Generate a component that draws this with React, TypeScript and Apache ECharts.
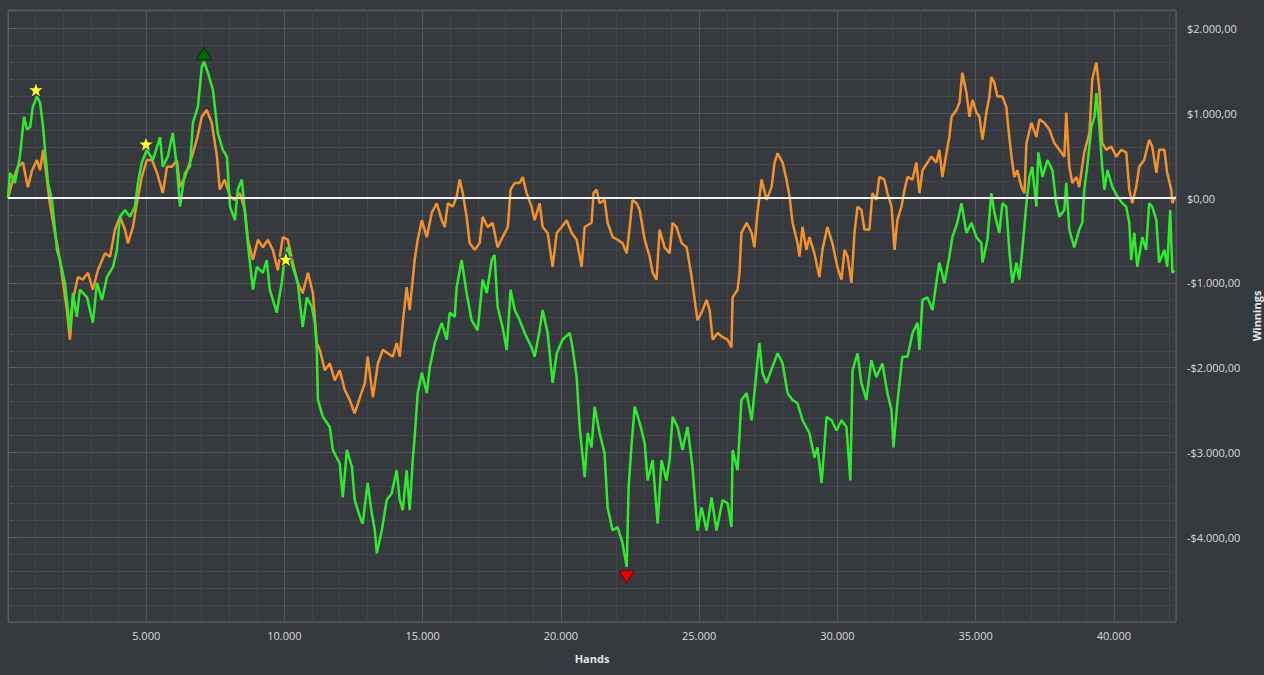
import React, { useEffect, useRef } from "react";
import * as echarts from "echarts";

// [hands, winnings]
const greenSeries: [number, number][] = [
  [0, 0], [70, 300], [250, 180], [430, 490], [580, 960], [690, 810], [800, 840], [900, 1080],
  [1050, 1200], [1160, 1125], [1270, 840], [1340, 570], [1450, 180], [1590, -20], [1700, -370],
  [1770, -610], [1880, -730], [2060, -1000], [2170, -1320], [2240, -1560], [2350, -1120],
  [2490, -1400], [2600, -1080], [2860, -1170], [3070, -1470], [3220, -1000], [3400, -1200],
  [3580, -930], [3800, -810], [3940, -610], [4050, -220], [4230, -140], [4410, -220], [4590, -100],
  [4700, 180], [4840, 420], [5020, 570], [5240, 450], [5500, 720], [5600, 370], [5780, 490],
  [5960, 770], [6110, 370], [6220, -100], [6400, 300], [6580, 370], [6690, 890], [6870, 1080],
  [7010, 1550], [7090, 1610], [7230, 1480], [7410, 1280], [7590, 770], [7770, 570], [7920, 490],
  [8030, -100], [8210, -260], [8310, 100], [8460, 220], [8570, -170], [8680, -550], [8860, -1080],
  [9000, -810], [9220, -880], [9360, -730], [9470, -1080], [9720, -1350], [9900, -1000],
  [10010, -690], [10120, -580], [10300, -810], [10480, -1000], [10660, -1520], [10810, -1170],
  [10990, -1280], [11100, -1470], [11170, -1790], [11210, -2380], [11390, -2580], [11640, -2700],
  [11750, -2970], [12000, -3130], [12110, -3530], [12260, -2970], [12440, -3170], [12540, -3560],
  [12730, -3760], [12830, -3840], [13010, -3360], [13160, -3720], [13270, -3920], [13340, -4190],
  [13520, -3920], [13700, -3560], [13880, -3480], [14060, -3210], [14170, -3560], [14280, -3680],
  [14420, -3210], [14530, -3680], [14640, -3090], [14710, -2820], [14820, -2300], [14970, -2060],
  [15150, -2300], [15260, -1990], [15440, -1710], [15690, -1470], [15870, -1670], [15980, -1350],
  [16160, -1400], [16230, -1050], [16410, -730], [16590, -1120], [16770, -1440], [16990, -1560],
  [17170, -960], [17320, -1120], [17500, -730], [17600, -670], [17710, -1280], [17890, -1520],
  [18040, -1790], [18180, -1080], [18330, -1320], [18510, -1440], [18690, -1590], [18940, -1760],
  [19050, -1870], [19230, -1560], [19340, -1320], [19520, -1590], [19700, -2180], [19850, -1830],
  [20060, -1670], [20320, -1590], [20420, -1760], [20570, -2110], [20680, -2700], [20860, -3290],
  [20970, -2770], [21110, -2940], [21220, -2460], [21400, -2770], [21580, -3010], [21690, -3650],
  [21870, -3920], [22050, -3880], [22230, -4070], [22380, -4350], [22450, -3410], [22560, -2890],
  [22670, -2460], [22850, -2650], [23030, -2890], [23140, -3330], [23320, -3090], [23500, -3840],
  [23640, -3090], [23820, -3330], [23930, -3090], [24040, -2580], [24220, -2700], [24400, -2970],
  [24580, -2700], [24760, -3170], [24940, -3920], [25090, -3650], [25270, -3920], [25450, -3530],
  [25630, -3920], [25850, -3560], [26030, -3600], [26170, -3880], [26210, -2970], [26390, -3210],
  [26530, -2380], [26720, -2300], [26900, -2620], [27000, -2300], [27180, -1710], [27290, -2060],
  [27440, -2180], [27650, -1990], [27840, -1830], [28020, -1950], [28200, -2300], [28380, -2380],
  [28560, -2420], [28740, -2620], [28990, -2770], [29170, -3060], [29280, -2940], [29430, -3360],
  [29610, -2580], [29790, -2620], [29970, -2740], [30150, -2620], [30330, -2700], [30470, -3330],
  [30550, -2030], [30730, -1830], [30870, -2180], [31050, -2380], [31230, -1910], [31410, -2110],
  [31630, -1950], [31810, -2300], [31960, -2500], [32030, -2940], [32170, -2420], [32350, -1870],
  [32540, -1870], [32720, -1590], [32900, -1470], [32970, -1790], [33080, -1200], [33260, -1170],
  [33440, -1320], [33580, -1000], [33690, -760], [33870, -1000], [34050, -690], [34160, -460],
  [34340, -290], [34490, -60], [34670, -410], [34850, -290], [35030, -460], [35210, -530],
  [35250, -760], [35430, -490], [35570, 60], [35680, -170], [35860, -410], [35970, -60],
  [36110, -100], [36220, -610], [36330, -1000], [36480, -760], [36580, -960], [36690, -610],
  [36840, -60], [36950, 250], [37050, 370], [37200, -100], [37270, 540], [37420, 250], [37600, 450],
  [37780, 330], [37920, -60], [38030, -220], [38210, -140], [38280, 180], [38390, -370],
  [38570, -580], [38750, -370], [38860, -290], [38930, 100], [39040, 370], [39190, 840],
  [39300, 960], [39370, 1240], [39480, 840], [39580, 370], [39660, 100], [39770, 330], [39950, 130],
  [40130, 20], [40310, -60], [40450, -100], [40560, -290], [40630, -730], [40740, -410],
  [40850, -810], [41030, -460], [41170, -610], [41280, -60], [41390, -100], [41540, -260],
  [41640, -760], [41830, -610], [41930, -810], [42040, -140], [42120, -880], [42190, -850],
];

const orangeSeries: [number, number][] = [
  [0, 0], [180, 220], [360, 370], [540, 420], [720, 130], [870, 330], [1050, 450], [1160, 330],
  [1270, 570], [1410, 220], [1520, -80], [1700, -410], [1880, -730], [1990, -1000], [2130, -1320],
  [2240, -1670], [2350, -1200], [2530, -930], [2710, -960], [2890, -880], [3070, -1080],
  [3250, -850], [3510, -650], [3690, -690], [3870, -370], [4050, -220], [4230, -370], [4340, -530],
  [4520, -340], [4660, -60], [4840, 250], [5020, 450], [5210, 450], [5390, 300], [5600, 60],
  [5750, 370], [5930, 370], [6110, 450], [6220, 130], [6400, 250], [6650, 490], [6830, 690],
  [7010, 960], [7190, 1040], [7370, 890], [7560, 490], [7660, 100], [7840, 220], [8030, 20],
  [8210, -20], [8390, 60], [8570, -140], [8680, -490], [8860, -730], [9040, -490], [9220, -580],
  [9400, -490], [9580, -610], [9760, -850], [9940, -460], [10120, -490], [10300, -760],
  [10480, -1000], [10660, -1120], [10850, -880], [11030, -1120], [11170, -1710], [11280, -1790],
  [11460, -2030], [11640, -1950], [11820, -2150], [12000, -2030], [12180, -2260], [12360, -2380],
  [12540, -2540], [12730, -2350], [12910, -2180], [13010, -1870], [13200, -2350], [13380, -1950],
  [13560, -1790], [13740, -1830], [13920, -1870], [14060, -1710], [14170, -1870], [14280, -1470],
  [14420, -1050], [14530, -1320], [14710, -730], [14820, -490], [14970, -260], [15150, -460],
  [15330, -170], [15510, -60], [15690, -260], [15800, -340], [15910, -60], [16090, -100],
  [16230, 20], [16340, 220], [16450, 60], [16590, -220], [16700, -530], [16880, -610],
  [17060, -530], [17170, -220], [17350, -340], [17530, -290], [17710, -580], [17890, -460],
  [18080, -340], [18180, 100], [18330, 180], [18510, 180], [18620, 250], [18760, 60], [18940, -100],
  [19050, -260], [19230, -60], [19340, -340], [19520, -410], [19700, -810], [19850, -410],
  [20030, -340], [20210, -260], [20390, -410], [20570, -490], [20750, -810], [20860, -340],
  [21110, -290], [21180, 60], [21290, 100], [21400, -60], [21580, -20], [21690, -290],
  [21870, -460], [22050, -490], [22230, -530], [22380, -650], [22490, -340], [22590, -20],
  [22740, -60], [22850, -140], [23030, -490], [23210, -690], [23320, -880], [23460, -960],
  [23570, -370], [23750, -580], [23930, -650], [24040, -290], [24180, -340], [24370, -530],
  [24550, -580], [24730, -930], [24840, -1200], [24940, -1440], [25090, -1350], [25270, -1200],
  [25380, -1320], [25490, -1670], [25670, -1590], [25850, -1640], [26030, -1670], [26170, -1760],
  [26210, -1170], [26390, -1080], [26460, -880], [26530, -410], [26720, -290], [26900, -410],
  [27000, -580], [27110, -170], [27260, 220], [27440, -20], [27620, 130], [27730, 420],
  [27840, 530], [28020, 420], [28160, 220], [28270, 20], [28380, -290], [28560, -530],
  [28630, -690], [28740, -340], [28880, -610], [28990, -460], [29170, -650], [29350, -930],
  [29460, -610], [29640, -340], [29820, -530], [30000, -810], [30150, -960], [30260, -610],
  [30370, -690], [30510, -1000], [30620, -410], [30730, -100], [30870, -140], [30980, -370],
  [31160, -370], [31270, 60], [31410, -20], [31520, 250], [31700, 220], [31810, 60], [31960, -100],
  [32070, -610], [32170, -260], [32320, -100], [32430, 100], [32540, 250], [32720, 220],
  [32860, 420], [32970, 60], [33080, 330], [33260, 420], [33400, 490], [33580, 420], [33690, 570],
  [33800, 250], [33950, 540], [34050, 720], [34130, 960], [34310, 1040], [34420, 1130],
  [34520, 1480], [34670, 1240], [34780, 960], [34890, 1160], [35030, 1010], [35140, 960],
  [35250, 690], [35390, 1010], [35500, 1200], [35570, 1430], [35680, 1360], [35790, 1200],
  [35970, 1200], [36110, 1080], [36190, 810], [36300, 490], [36400, 250], [36510, 330],
  [36660, 130], [36770, 60], [36840, 650], [37020, 890], [37200, 720], [37310, 930], [37490, 890],
  [37670, 810], [37850, 650], [38030, 570], [38210, 490], [38280, 1010], [38390, 370], [38500, 180],
  [38650, 250], [38750, 130], [38930, 540], [39120, 770], [39220, 1400], [39370, 1600],
  [39480, 1280], [39580, 650], [39730, 570], [39910, 610], [40090, 490], [40270, 570], [40450, 540],
  [40560, 100], [40670, -60], [40810, 130], [40920, 370], [41100, 450], [41280, 690], [41390, 610],
  [41540, 300], [41640, 570], [41830, 570], [41930, 300], [42080, 100], [42120, -60], [42220, 20],
];

// annotated points on the green line
const starMarks: [number, number][] = [[1010, 1280], [4990, 640], [10050, -720]];
const maxMark: [number, number] = [7090, 1610];
const minMark: [number, number] = [22380, -4350];

const xMin = 0;
const xMax = 42250;
const xInterval = 5000;
const yMin = -5000;
const yMax = 2220;
const yInterval = 1000;

const STAR =
  "path://M50,2 L61.8,36.2 L97.6,36.2 L68.6,57.6 L79.4,92 L50,71 L20.6,92 L31.4,57.6 L2.4,36.2 L38.2,36.2 Z";

function thousands(n: number): string {
  return String(n).replace(/\B(?=(\d{3})+(?!\d))/g, ".");
}
function money(v: number): string {
  const neg = v < 0;
  const parts = Math.abs(v).toFixed(2).split(".");
  return (neg ? "-" : "") + "$" + thousands(Number(parts[0])) + "," + parts[1];
}

export default function App() {
  const ref = useRef<HTMLDivElement>(null);
  useEffect(() => {
    if (!ref.current) return;
    const chart = echarts.init(ref.current, undefined, { renderer: "svg" });
    const font = "'Open Sans', 'Noto Sans', sans-serif";
    const major = "#54575b";
    const minor = "#43464a";
    chart.setOption({
      animation: false,
      backgroundColor: "#36393d",
      textStyle: { fontFamily: font },
      grid: {
        left: 8,
        right: 88,
        top: 10,
        bottom: 53,
        containLabel: false,
        outerBoundsMode: "none",
        show: true,
        borderColor: "#5c5f63",
        borderWidth: 1,
      },
      xAxis: {
        type: "value",
        min: xMin,
        max: xMax,
        interval: xInterval,
        name: "Hands",
        nameLocation: "middle",
        nameGap: 31,
        nameTextStyle: { color: "#e6e6e6", fontSize: 11, fontWeight: "bold", fontFamily: font },
        axisLine: { show: true, lineStyle: { color: "#5c5f63" } },
        axisTick: { show: true, length: 5, lineStyle: { color: "#5c5f63" } },
        minorTick: { show: true, splitNumber: 5, length: 4, lineStyle: { color: "#4e5155" } },
        axisLabel: {
          color: "#dcdcdc",
          fontSize: 11,
          margin: 8,
          showMinLabel: false,
          showMaxLabel: false,
          formatter: (v: number) => thousands(v),
        },
        splitLine: { show: true, lineStyle: { color: major, width: 1 } },
        minorSplitLine: { show: true, lineStyle: { color: minor, width: 1 } },
      },
      yAxis: {
        type: "value",
        position: "right",
        min: yMin,
        max: yMax,
        interval: yInterval,
        name: "Winnings",
        nameLocation: "middle",
        nameGap: 72,
        nameRotate: 90,
        nameTextStyle: { color: "#e6e6e6", fontSize: 11, fontWeight: "bold", fontFamily: font },
        axisLine: { show: true, lineStyle: { color: "#5c5f63" } },
        axisTick: { show: true, length: 9, lineStyle: { color: "#5c5f63" } },
        minorTick: { show: true, splitNumber: 5, length: 5, lineStyle: { color: "#4e5155" } },
        axisLabel: {
          color: "#dcdcdc",
          fontSize: 11,
          margin: 11,
          showMinLabel: false,
          showMaxLabel: false,
          formatter: (v: number) => money(v),
        },
        splitLine: { show: true, lineStyle: { color: major, width: 1 } },
        minorSplitLine: { show: true, lineStyle: { color: minor, width: 1 } },
      },
      series: [
        {
          name: "All-in adjusted",
          type: "line",
          data: orangeSeries,
          showSymbol: false,
          symbol: "none",
          lineStyle: { color: "#f2922f", width: 2.5 },
          itemStyle: { color: "#f2922f" },
          z: 2,
          markLine: {
            silent: true,
            symbol: ["none", "none"],
            label: { show: false },
            lineStyle: { color: "#f4f4f4", width: 2, type: "solid" },
            data: [{ yAxis: 0 }],
            z: 5,
          },
        },
        {
          name: "Net won",
          type: "line",
          data: greenSeries,
          showSymbol: false,
          symbol: "none",
          lineStyle: { color: "#30ea30", width: 2.5 },
          itemStyle: { color: "#30ea30" },
          z: 3,
          markPoint: {
            silent: true,
            label: { show: false },
            data: [
              ...starMarks.map((c) => ({
                coord: c,
                symbol: STAR,
                symbolSize: 16,
                itemStyle: { color: "#ffff1a", borderColor: "#2c2c55", borderWidth: 1 },
              })),
              {
                coord: maxMark,
                symbol: "triangle",
                symbolSize: [15, 12],
                symbolOffset: [0, -8],
                itemStyle: { color: "#046b04", borderColor: "#023a02", borderWidth: 1 },
              },
              {
                coord: minMark,
                symbol: "triangle",
                symbolRotate: 180,
                symbolSize: [15, 12],
                symbolOffset: [0, 10],
                itemStyle: { color: "#ee0000", borderColor: "#700000", borderWidth: 1 },
              },
            ],
          },
        },
      ],
    });
    return () => chart.dispose();
  }, []);
  return (
    <div
      ref={ref}
      style={{ position: "fixed", left: 0, top: 0, width: 1264, height: 675 }}
    />
  );
}
